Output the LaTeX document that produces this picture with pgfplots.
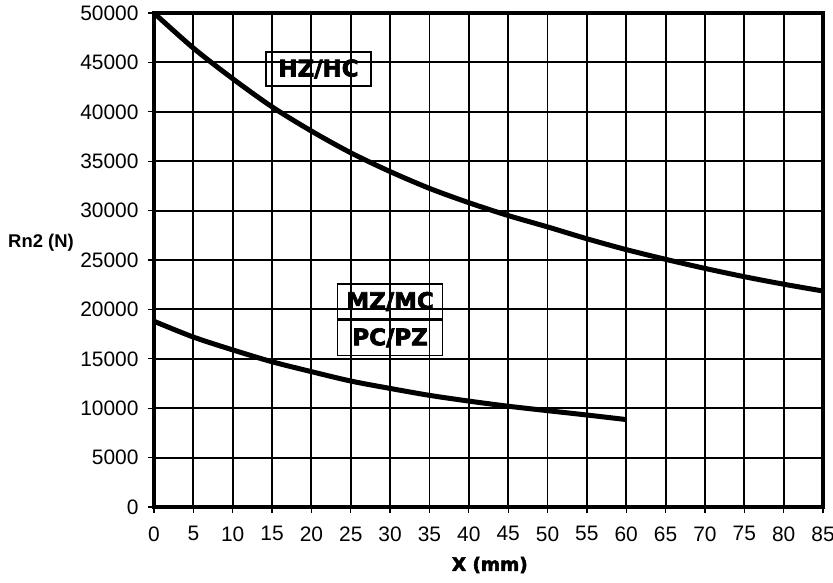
\documentclass[border=0pt]{standalone}
\usepackage{fontspec}
\setmainfont{Liberation Sans}
\newfontfamily\heavy{DejaVu Sans}[BoldFeatures={FakeBold=3}]
\usepackage{pgfplots}
\pgfplotsset{compat=1.18}
\begin{document}
\begin{tikzpicture}
\begin{axis}[
  name=ax,
  scale only axis,
  width=669bp, height=494bp,
  xmin=0, xmax=85, ymin=0, ymax=50000,
  xtick={0,5,...,85},
  ytick={0,5000,...,50000},
  scaled ticks=false,
  /pgf/number format/assume math mode=true,
  /pgf/number format/set thousands separator={},
  /pgf/number format/fixed,
  tick label style={font=\fontsize{21}{24}\selectfont},
  xticklabel style={yshift=-10bp},
  yticklabel style={xshift=-6bp},
  tick align=outside,
  tick pos=left,
  major tick length=6bp,
  every tick/.style={black, line width=1.3bp},
  grid=major,
  major grid style={black, line width=1.9bp},
  axis line style={black, line width=3.5bp},
  axis on top,
  clip=false,
]
\addplot[black, line width=5bp, smooth] coordinates {
(0,50000) (5,46450) (10,43350) (15,40500) (20,38050) (25,35850) (30,33950)
(35,32250) (40,30800) (45,29500) (50,28350) (55,27150) (60,26050) (65,25070)
(70,24150) (75,23310) (80,22550) (85,21860)};
\addplot[black, line width=5bp, smooth] coordinates {
(0,18800) (5,17200) (10,15900) (15,14700) (20,13700) (25,12750) (30,12000)
(35,11300) (40,10720) (45,10200) (50,9750) (55,9310) (60,8850)};
\node[draw, fill=white, line width=1.3bp, minimum width=105bp, minimum height=34bp, inner sep=0pt,
  font=\heavy\bfseries\fontsize{23}{26}\selectfont] at (axis cs:20.9,44330) {HZ/HC};
\node[draw, fill=white, line width=1.3bp, minimum width=105bp, minimum height=35bp, inner sep=0pt, anchor=south,
  font=\heavy\bfseries\fontsize{23}{26}\selectfont] at (axis cs:30,18960) {MZ/MC};
\node[draw, fill=white, line width=1.3bp, minimum width=105bp, minimum height=35bp, inner sep=0pt, anchor=north,
  font=\heavy\bfseries\fontsize{23}{26}\selectfont] at (axis cs:30,18960) {PC/PZ};
\node[font=\bfseries\fontsize{18.5}{21}\selectfont] at ([xshift=-113bp]rel axis cs:0,0.535) {Rn2 (N)};
\node[font=\heavy\bfseries\fontsize{18.5}{21}\selectfont] at ([yshift=-58bp]rel axis cs:0.502,0) {X (mm)};
\end{axis}
\pgfresetboundingbox
\path[use as bounding box] ([xshift=-154bp,yshift=-76bp]ax.south west) rectangle ([xshift=10bp,yshift=13bp]ax.north east);
\end{tikzpicture}
\end{document}
